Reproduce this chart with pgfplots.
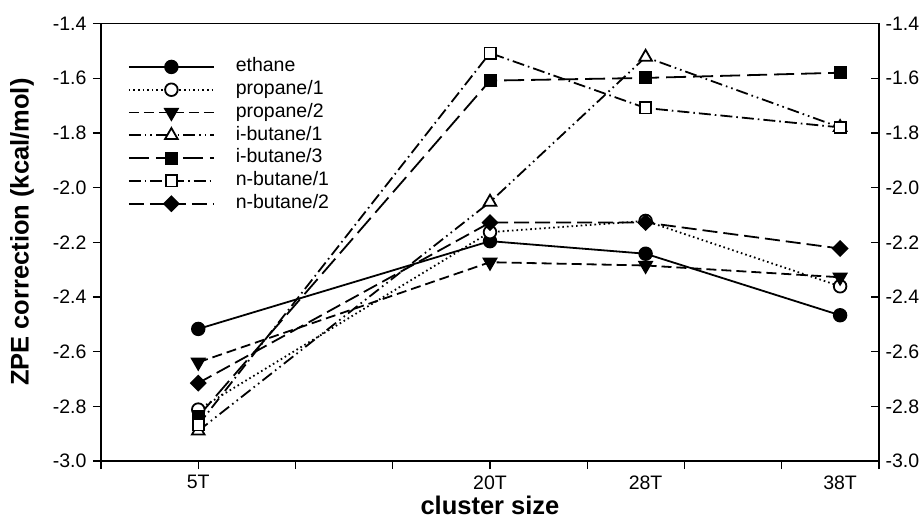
\documentclass[border=0pt]{standalone}
\usepackage{fontspec}
\setmainfont{Liberation Sans}
\usepackage{pgfplots}
\pgfplotsset{compat=1.18}
\newcommand{\tickfont}{\fontsize{19.5}{23}\selectfont}
\newcommand{\labfont}{\fontsize{25.5}{29}\selectfont\bfseries}
\pgfplotsset{
  common/.style={
    scale only axis, width=778pt, height=437.5pt,
    xmin=0, xmax=40, ymin=-3.0, ymax=-1.4,
    ytick={-3.0,-2.8,-2.6,-2.4,-2.2,-2.0,-1.8,-1.6,-1.4},
    yticklabels={-3.0,-2.8,-2.6,-2.4,-2.2,-2.0,-1.8,-1.6,-1.4},
    ticklabel style={font=\tickfont},
    major tick length=8pt,
    every tick/.style={black, line width=1.3pt},
    axis line style={-, line width=1.3pt},
    every outer x axis line/.append style={-},
    every outer y axis line/.append style={-},
    clip=false,
  }
}
\begin{document}
\begin{tikzpicture}
\begin{axis}[common, name=main,
  axis x line*=bottom, axis y line*=left, tick align=outside,
  xtick={0,5,...,40}, xticklabels={},
  extra x ticks={5,20,28,38},
  extra x tick labels={5T,20T,28T,38T},
  extra x tick style={major tick style={draw=none}},
  xticklabel style={yshift=-3pt},
  yticklabel style={xshift=-3pt},
  xlabel={cluster size},
  ylabel={ZPE correction (kcal/mol)},
  every axis x label/.style={at={(axis description cs:0.5,0)}, anchor=base, yshift=-53pt, font=\labfont},
  every axis y label/.style={at={(axis description cs:-0.1015,0.523)}, anchor=center, rotate=90, font=\labfont},
  legend style={draw=none, fill=none, at={(axis description cs:0.0347,0.923)}, anchor=north west,
    inner sep=0pt, outer sep=0pt, row sep=3.3pt, font=\tickfont,
    nodes={inner sep=0pt, text height=14.6pt, text depth=4.9pt},
    /tikz/every odd column/.append style={column sep=21pt}},
  legend cell align=left,
  legend image code/.code={\draw[mark repeat=2,mark phase=2,#1] plot coordinates {(0pt,0pt) (42.5pt,0pt) (85pt,0pt)};},
]
\addplot[black, line width=1.8pt, mark=*, mark size=6.3pt, mark options={solid}] coordinates {(5,-2.517) (20,-2.196) (28,-2.242) (38,-2.467)};
\addlegendentry{ethane}
\addplot[black, line width=1.8pt, dash pattern=on 1.6pt off 3pt, mark=*, mark size=6.3pt, mark options={solid, fill=white}] coordinates {(5,-2.812) (20,-2.163) (28,-2.122) (38,-2.361)};
\addlegendentry{propane/1}
\addplot[black, line width=1.8pt, dash pattern=on 10pt off 5pt, mark=triangle*, mark size=7.3pt, mark options={solid, rotate=180}] coordinates {(5,-2.639) (20,-2.273) (28,-2.285) (38,-2.328)};
\addlegendentry{propane/2}
\addplot[black, line width=1.8pt, dash pattern=on 12pt off 4pt on 1.6pt off 4pt on 1.6pt off 4pt, mark=triangle*, mark size=7.3pt, mark options={solid, fill=white}] coordinates {(5,-2.89) (20,-2.053) (28,-1.523) (38,-1.78)};
\addlegendentry{i-butane/1}
\addplot[black, line width=1.8pt, dash pattern=on 20pt off 7pt, mark=square*, mark size=5.6pt, mark options={solid}] coordinates {(5,-2.837) (20,-1.609) (28,-1.599) (38,-1.580)};
\addlegendentry{i-butane/3}
\addplot[black, line width=1.8pt, dash pattern=on 12pt off 4pt on 1.6pt off 4pt, mark=square*, mark size=5.6pt, mark options={solid, fill=white}] coordinates {(5,-2.868) (20,-1.508) (28,-1.709) (38,-1.780)};
\addlegendentry{n-butane/1}
\addplot[black, line width=1.8pt, dash pattern=on 15pt off 6pt, mark=square*, mark size=5.1pt, mark options={solid, rotate=45}] coordinates {(5,-2.715) (20,-2.128) (28,-2.128) (38,-2.223)};
\addlegendentry{n-butane/2}
\end{axis}
\begin{axis}[common,
  axis x line*=top, axis y line*=right, xtick=\empty,
  ytick align=inside,
  yticklabel style={xshift=3pt},
]
\end{axis}
\pgfresetboundingbox
\path[use as bounding box] ([xshift=-101pt,yshift=-61pt]main.south west) rectangle ([xshift=44pt,yshift=23.5pt]main.north east);
\end{tikzpicture}
\end{document}
